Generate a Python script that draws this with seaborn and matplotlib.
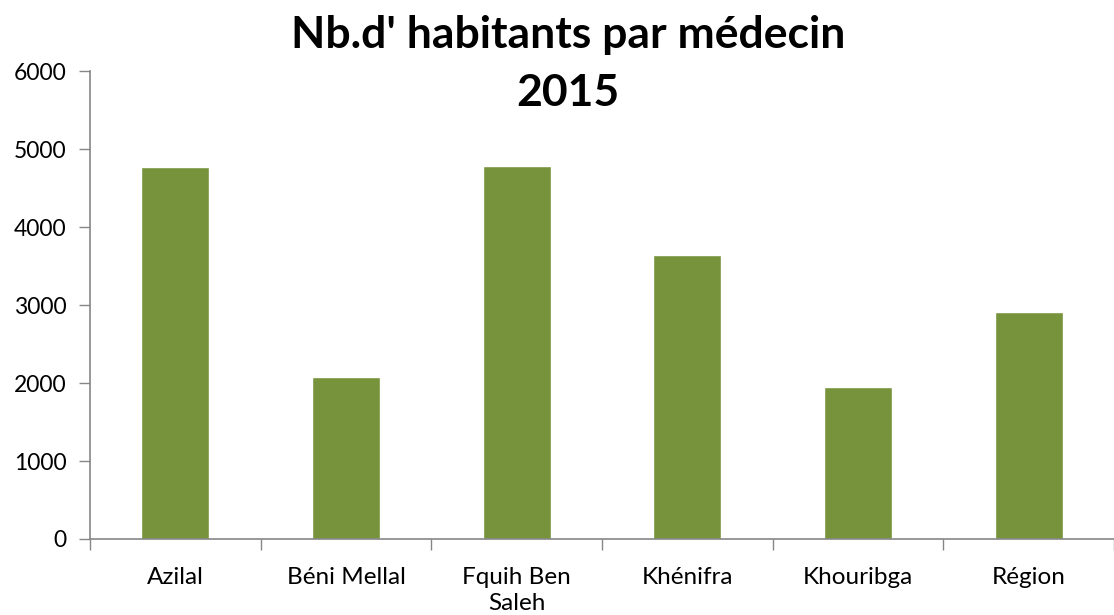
import matplotlib
matplotlib.use("Agg")
import matplotlib.pyplot as plt
import seaborn as sns
import pandas as pd
import numpy as np

# Number of inhabitants per doctor, 2015
provinces = ["Azilal", "Béni Mellal", "Fquih Ben\nSaleh", "Khénifra", "Khouribga", "Région"]
habitants_par_medecin = [4776, 2078, 4785, 3647, 1950, 2912]
y_ticks = [0, 1000, 2000, 3000, 4000, 5000, 6000]

sns.set_theme(style="white")
plt.rcParams["font.family"] = ["Lato", "DejaVu Sans"]

df = pd.DataFrame({"province": provinces, "valeur": habitants_par_medecin})

fig = plt.figure(figsize=(11.14, 6.15), dpi=100)
ax = fig.add_axes([0.0808, 0.1236, 0.9192, 0.7604])

sns.barplot(data=df, x="province", y="valeur", color="#77933C", width=0.4,
            saturation=1, ax=ax)

ax.set_ylim(0, 6000)
ax.set_xlim(-0.5, len(provinces) - 0.5)
ax.set_yticks(y_ticks)
ax.set_yticklabels([str(v) for v in y_ticks], fontsize=16.5, color="black")
ax.set_xlabel("")
ax.set_ylabel("")

# category labels at bar centres, tick marks at category boundaries
ax.set_xticks(np.arange(len(provinces)))
ax.set_xticklabels(provinces, fontsize=17.5, color="black", linespacing=1.3)
ax.set_xticks(np.arange(-0.5, len(provinces) + 0.5, 1), minor=True)
ax.tick_params(axis="x", which="major", length=0, pad=20)
ax.tick_params(axis="x", which="minor", length=8, width=1, color="#868686",
               direction="out", bottom=True)
ax.tick_params(axis="y", length=8, width=1, color="#868686", direction="out",
               left=True, pad=9)

for side in ["top", "right"]:
    ax.spines[side].set_visible(False)
for side in ["left", "bottom"]:
    ax.spines[side].set_color("#868686")
    ax.spines[side].set_linewidth(1.2)

fig.text(0.510, 0.943, "Nb.d' habitants par médecin", ha="center", va="center",
         fontsize=32, fontweight="bold", color="black")
fig.text(0.510, 0.848, "2015", ha="center", va="center",
         fontsize=32, fontweight="bold", color="black")

fig.savefig("out.png", dpi=100)
